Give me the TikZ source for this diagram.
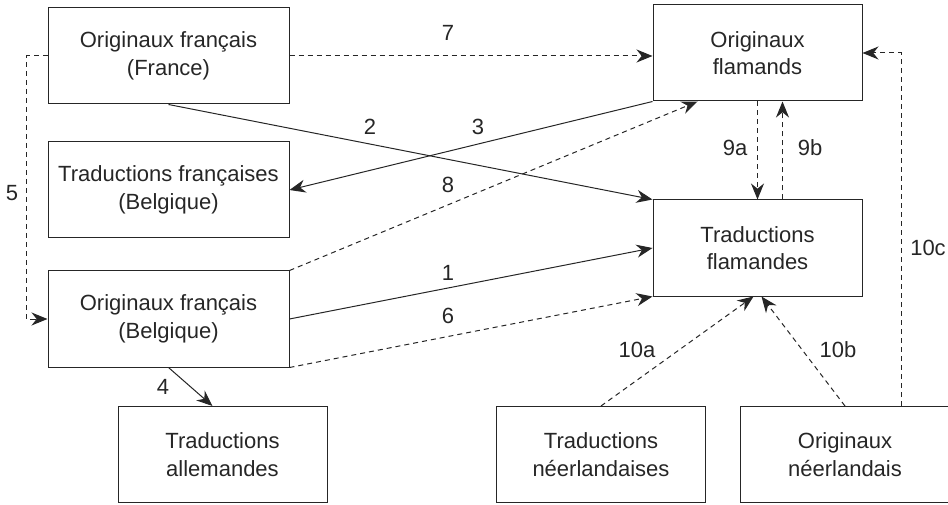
\documentclass[tikz,border=0pt]{standalone}
\usepackage{fontspec}
\setmainfont{Liberation Sans}
\usetikzlibrary{arrows.meta}
\definecolor{ink}{HTML}{262626}
\tikzset{
	corpus/.style={draw=ink, line width=1pt, align=center, text=ink, inner sep=0pt,
		minimum height=96pt, font=\fontsize{22}{27.5}\selectfont},
	wide/.style={corpus, minimum width=241pt},
	narrow/.style={corpus, minimum width=209pt},
	flux/.style={draw=ink, line width=1pt, -{Stealth[length=16pt,width=13pt]}},
	fluxdash/.style={flux, dash pattern=on 5pt off 4pt},
	lbl/.style={text=ink, inner sep=0pt, font=\fontsize{22}{26}\selectfont}
}
\begin{document}
\begin{tikzpicture}[x=1pt,y=-1pt]
			\useasboundingbox (0,0) rectangle (948,505);
			%French side
			\node [wide] (OFF) at (168.5,56) {Originaux français\\(France)};
			\node [wide] (TFB) at (168.5,190) {Traductions françaises\\(Belgique)};
			\node [wide] (OFB) at (168.5,319) {Originaux français\\(Belgique)};
			\node [narrow] (TA) at (222.5,454.5) {Traductions\\allemandes};
			%Flemish side
			\node [narrow] (OF) at (757.5,53) {Originaux\\flamands};
			\node [narrow] (TF) at (757.5,248) {Traductions\\flamandes};
			%Dutch side
			\node [narrow] (TN) at (601,454.5) {Traductions\\néerlandaises};
			\node [narrow] (ON) at (845,454.5) {Originaux\\néerlandais};
			%Solid links
			\draw [flux] (OFB.east) -- (TF.west);
			\draw [flux] (OFF.south) -- (TF.north west);
			\draw [flux] (OF.south west) -- (TFB.east);
			\draw [flux] (OFB.south) -- ([xshift=-10pt]TA.north);
			%Dashed links
			\draw [fluxdash] (OFF.west) -- ++(-21,0) |- (OFB.west);
			\draw [fluxdash] (OFB.south east) -- (TF.south west);
			\draw [fluxdash] (OFF.east) -- (OFF.east -| OF.west);
			\draw [fluxdash] (OFB.north east) -- ([xshift=-60pt]OF.south);
			\draw [fluxdash] (OF.south) -- (TF.north);
			\draw [fluxdash] ([xshift=25pt]TF.north) -- ([xshift=25pt]OF.south);
			\draw [fluxdash] (TN.north) -- ([xshift=-4pt]TF.south);
			\draw [fluxdash] (ON.north) -- ([xshift=4pt]TF.south);
			\draw [fluxdash] ([xshift=56pt]ON.north) |- (OF.east);
			%Numbers
			\node [lbl] (n1) at (448,273) {1};
			\node [lbl] (n2) at (370,127) {2};
			\node [lbl] (n3) at (478,127) {3};
			\node [lbl] (n4) at (163,387) {4};
			\node [lbl] (n5) at (12,193) {5};
			\node [lbl] (n6) at (448,316) {6};
			\node [lbl] (n7) at (448,33) {7};
			\node [lbl] (n8) at (448,185) {8};
			\node [lbl] (n9a) at (735,148) {9a};
			\node [lbl] (n9b) at (810,148) {9b};
			\node [lbl] (n10a) at (637,350) {10a};
			\node [lbl] (n10b) at (838,350) {10b};
			\node [lbl] (n10c) at (928,248) {10c};
\end{tikzpicture}
\end{document}
